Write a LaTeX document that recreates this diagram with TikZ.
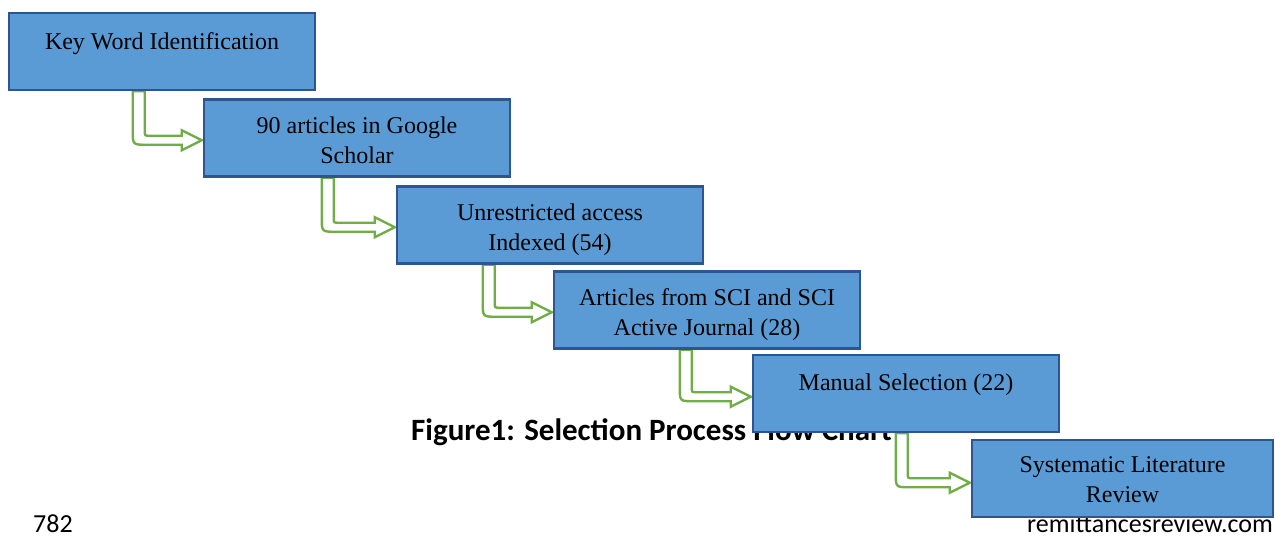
\documentclass[tikz,border=0pt]{standalone}
\usepackage{fontspec}
\setmainfont{Liberation Serif}
\newfontfamily\capfont{Carlito}
\usetikzlibrary{calc}
\definecolor{boxfill}{HTML}{5B9BD5}
\definecolor{boxline}{HTML}{2F5590}
\definecolor{arrgreen}{HTML}{70AD47}
\tikzset{
  stepbox/.style={draw=boxline, fill=boxfill, line width=2.5pt, minimum width=306pt, minimum height=77pt, inner sep=0pt, rectangle},
  boxtext/.style={anchor=north, inner sep=0pt, align=center, font=\fontsize{24}{30}\selectfont},
  bentarr/.style={draw=arrgreen, fill=white, line width=2.4pt, line join=miter},
}
% #1 source node, #2 shaft offset from source left, #3 target node, #4 tip offset below target top
\newcommand\bentarrow[4]{%
  \path[bentarr] let \p1=($(#1.south west)+(#2,0)$), \p2=($(#3.north west)+(-1,#4)$) in
    (\x1-6pt,\y1) -- (\x1-6pt,\y2-4.5pt+14pt)
    .. controls (\x1-6pt,\y2-4.5pt) .. (\x1-6pt+14pt,\y2-4.5pt)
    -- (\x2-20pt,\y2-4.5pt) -- (\x2-20pt,\y2-10pt) -- (\x2,\y2) -- (\x2-20pt,\y2+10pt)
    -- (\x2-20pt,\y2+4.5pt) -- (\x1+6pt+5pt,\y2+4.5pt)
    .. controls (\x1+6pt,\y2+4.5pt) .. (\x1+6pt,\y2+4.5pt+5pt)
    -- (\x1+6pt,\y1) -- cycle;}
\begin{document}
\begin{tikzpicture}[x=1pt,y=-1pt]
\useasboundingbox (0,0) rectangle (1275,536);
% caption (partly hidden behind the chart)
\node[anchor=base west, inner sep=0pt, font=\capfont\bfseries\fontsize{31}{36}\selectfont] (cap) at (411,440) {Figure1: Selection Process Flow Chart};
% footer
\node[anchor=base west, inner sep=0pt, font=\capfont\fontsize{26}{30}\selectfont] (pg) at (33,532) {782};
\node[anchor=base east, inner sep=0pt, font=\capfont\fontsize{26}{30}\selectfont] (site) at (1273,532) {remittancesreview.com};
% box positions
\coordinate (c1) at (162,51.5);
\coordinate (c2) at (357,138);
\coordinate (c3) at (550,225);
\coordinate (c4) at (707,310);
\coordinate (c5) at (906,393.5);
\coordinate (c6) at (1122.5,478.5);
\path (c1) node[stepbox, draw=none, fill=none] (b1) {};
\path (c2) node[stepbox, draw=none, fill=none] (b2) {};
\path (c3) node[stepbox, draw=none, fill=none] (b3) {};
\path (c4) node[stepbox, draw=none, fill=none] (b4) {};
\path (c5) node[stepbox, draw=none, fill=none] (b5) {};
\path (c6) node[stepbox, draw=none, fill=none, minimum width=301pt] (b6) {};
% arrows
\bentarrow{b1}{131}{b2}{42}
\bentarrow{b2}{125}{b3}{42}
\bentarrow{b3}{93}{b4}{42}
\bentarrow{b4}{133}{b5}{43}
\bentarrow{b5}{150}{b6}{44}
% visible boxes
\foreach \i in {1,...,6} {
  \path (b\i.north west) node[draw=boxline, fill=boxfill, line width=2.5pt, inner sep=0pt, anchor=north west,
    minimum width={\ifnum\i=6 301pt\else 306pt\fi}, minimum height=77pt] (box\i) {};
}
\node[boxtext] (t1) at ($(box1.north)+(0,17)$) {\strut Key Word Identification};
\node[boxtext] (t2) at ($(box2.north)+(0,14)$) {\strut 90 articles in Google\\Scholar};
\node[boxtext] (t3) at ($(box3.north)+(0,14)$) {\strut Unrestricted access\\Indexed (54)};
\node[boxtext] (t4) at ($(box4.north)+(0,14)$) {\strut Articles from SCI and SCI\\Active Journal (28)};
\node[boxtext] (t5) at ($(box5.north)+(0,16)$) {\strut Manual Selection (22)};
\node[boxtext] (t6) at ($(box6.north)+(0,13)$) {\strut Systematic Literature\\Review};
\end{tikzpicture}
\end{document}
